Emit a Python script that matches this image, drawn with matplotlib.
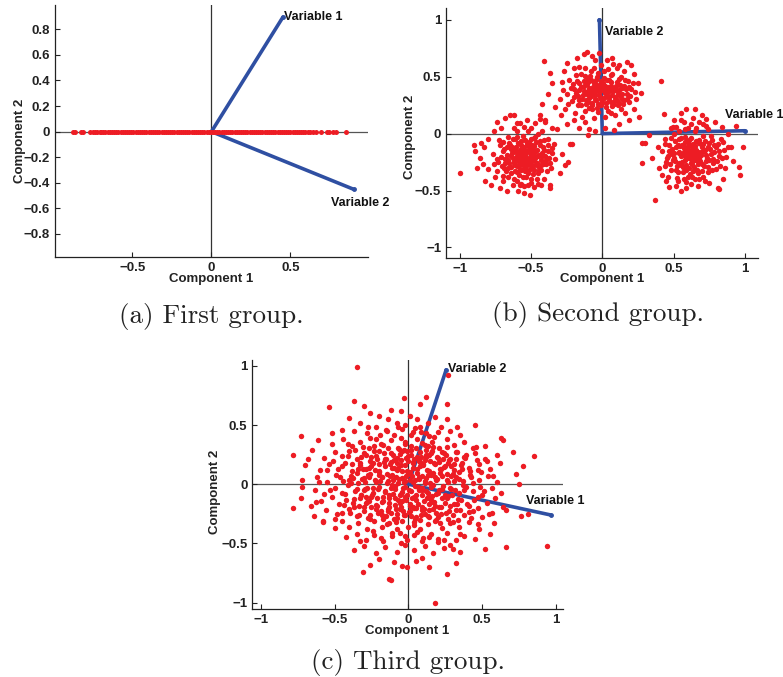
import matplotlib
matplotlib.use("Agg")
import matplotlib.pyplot as plt

# ---------------- data ----------------
# Panel (a): scores lie on the Component 1 axis (Component 2 = 0)
a_x = [-0.878, -0.863, -0.827, -0.812, -0.768, -0.747, -0.735, -0.722, -0.708, -0.696,
       -0.683, -0.671, -0.655, -0.642, -0.630, -0.615, -0.601, -0.589, -0.574, -0.562,
       -0.548, -0.533, -0.521, -0.507, -0.494, -0.480, -0.467, -0.452, -0.440, -0.425,
       -0.412, -0.398, -0.384, -0.371, -0.357, -0.344, -0.330, -0.316, -0.303, -0.290,
       -0.276, -0.262, -0.248, -0.235, -0.221, -0.208, -0.194, -0.181, -0.166, -0.153,
       -0.139, -0.126, -0.112, -0.099, -0.085, -0.071, -0.058, -0.044, -0.031, -0.017,
       -0.004, 0.010, 0.023, 0.037, 0.050, 0.064, 0.078, 0.091, 0.105, 0.118,
       0.132, 0.146, 0.159, 0.173, 0.186, 0.200, 0.214, 0.227, 0.241, 0.254,
       0.268, 0.282, 0.295, 0.309, 0.322, 0.336, 0.350, 0.363, 0.377, 0.390,
       0.404, 0.418, 0.431, 0.445, 0.458, 0.472, 0.486, 0.499, 0.513, 0.526,
       0.540, 0.554, 0.567, 0.581, 0.594, 0.608, 0.622, 0.640, 0.660, 0.690,
       0.730, 0.745, 0.770, 0.790, 0.853]
a_y = [0.0] * len(a_x)

# Panel (b): three clusters
b_left = [(-1.00, -0.35), (-0.90, -0.10), (-0.89, -0.15), (-0.88, -0.30), (-0.86, -0.21),
          (-0.85, -0.08), (-0.84, -0.27), (-0.83, -0.12), (-0.82, -0.42), (-0.80, -0.05),
          (-0.80, -0.31), (-0.78, -0.45), (-0.77, -0.18), (-0.76, 0.02), (-0.75, -0.38),
          (-0.74, 0.10), (-0.73, -0.25), (-0.72, -0.48), (-0.71, 0.05), (-0.70, -0.42),
          (-0.68, 0.14), (-0.67, -0.50), (-0.66, -0.03), (-0.65, 0.16), (-0.63, -0.45),
          (-0.62, 0.16), (-0.60, 0.09), (-0.59, -0.50), (-0.57, -0.44), (-0.55, -0.52),
          (-0.53, 0.12), (-0.51, -0.54), (-0.50, 0.05), (-0.48, -0.47), (-0.47, 0.09),
          (-0.45, -0.44), (-0.44, 0.13), (-0.42, 0.02), (-0.41, -0.40), (-0.40, 0.12),
          (-0.38, -0.05), (-0.37, -0.48), (-0.36, -0.30), (-0.35, -0.13), (-0.33, -0.22),
          (-0.32, 0.04), (-0.30, -0.35), (-0.28, -0.18), (-0.26, -0.28), (-0.24, -0.25),
          (-0.37, -0.45), (-0.43, -0.45),
          (-0.70, -0.15), (-0.68, -0.22), (-0.66, -0.30), (-0.65, -0.10), (-0.64, -0.20),
          (-0.63, -0.05), (-0.62, -0.26), (-0.61, -0.14), (-0.60, -0.34), (-0.60, -0.20),
          (-0.59, -0.08), (-0.58, -0.27), (-0.58, -0.16), (-0.57, -0.22), (-0.56, -0.38),
          (-0.56, -0.02), (-0.55, -0.12), (-0.55, -0.25), (-0.54, -0.30), (-0.54, -0.18),
          (-0.53, -0.08), (-0.53, -0.22), (-0.52, -0.35), (-0.52, -0.14), (-0.51, -0.27),
          (-0.50, -0.19), (-0.50, -0.40), (-0.49, -0.10), (-0.49, -0.24), (-0.48, -0.32),
          (-0.47, -0.16), (-0.47, -0.03), (-0.46, -0.26), (-0.45, -0.20), (-0.45, -0.35),
          (-0.44, -0.10), (-0.43, -0.28), (-0.42, -0.17), (-0.41, -0.06), (-0.40, -0.24),
          (-0.39, -0.33), (-0.38, -0.15), (-0.62, -0.40), (-0.66, -0.38), (-0.69, -0.30),
          (-0.72, -0.10), (-0.74, -0.22), (-0.57, -0.32), (-0.52, -0.45), (-0.46, -0.40),
          (-0.60, 0.02), (-0.55, 0.06), (-0.50, -0.05), (-0.45, 0.00), (-0.58, -0.45),
          (-0.64, -0.35), (-0.70, -0.37), (-0.67, -0.12), (-0.61, -0.22), (-0.57, -0.18),
          (-0.53, -0.28), (-0.51, -0.21), (-0.48, -0.20), (-0.56, -0.23), (-0.54, -0.15),
          (-0.637, -0.172), (-0.621, -0.238), (-0.608, -0.117), (-0.596, -0.283), (-0.587, -0.193),
          (-0.574, -0.061), (-0.566, -0.246), (-0.553, -0.157), (-0.544, -0.331), (-0.536, -0.208),
          (-0.527, -0.096), (-0.518, -0.261), (-0.509, -0.168), (-0.497, -0.303), (-0.488, -0.142),
          (-0.476, -0.233), (-0.463, -0.071), (-0.452, -0.287), (-0.441, -0.186), (-0.428, -0.236),
          (-0.416, -0.121), (-0.403, -0.198), (-0.652, -0.262), (-0.668, -0.187), (-0.683, -0.258),
          (-0.614, -0.331), (-0.582, -0.367), (-0.533, -0.383), (-0.486, -0.352), (-0.432, -0.318),
          (-0.592, -0.227), (-0.561, -0.191), (-0.528, -0.226), (-0.571, -0.132), (-0.505, -0.122),
          (-0.694, -0.071), (-0.612, -0.048), (-0.468, -0.268), (-0.396, -0.271), (-0.372, -0.212),
          (-0.712, -0.203), (-0.703, -0.286), (-0.691, -0.138), (-0.677, -0.331), (-0.662, -0.232),
          (-0.655, -0.083), (-0.643, -0.297), (-0.631, -0.121), (-0.627, -0.213), (-0.616, -0.276),
          (-0.604, -0.163), (-0.597, -0.033), (-0.589, -0.238), (-0.579, -0.311), (-0.568, -0.103),
          (-0.559, -0.277), (-0.551, -0.198), (-0.542, -0.057), (-0.538, -0.263), (-0.526, -0.152),
          (-0.517, -0.317), (-0.511, -0.072), (-0.503, -0.243), (-0.494, -0.173), (-0.483, -0.281),
          (-0.477, -0.106), (-0.469, -0.213), (-0.458, -0.143), (-0.447, -0.322), (-0.438, -0.061),
          (-0.426, -0.193), (-0.419, -0.264), (-0.407, -0.148), (-0.391, -0.227), (-0.383, -0.097),
          (-0.367, -0.256), (-0.353, -0.173), (-0.341, -0.087), (-0.762, -0.263), (-0.741, -0.331),
          (-0.726, -0.056), (-0.596, -0.417), (-0.547, -0.457), (-0.498, -0.431), (-0.622, 0.047),
          (-0.576, 0.093), (-0.521, 0.027), (-0.478, -0.037), (-0.642, -0.136), (-0.586, -0.151)]

b_top = [(-0.41, 0.64), (-0.37, 0.53), (-0.35, 0.44), (-0.38, 0.35), (-0.42, 0.26),
         (-0.44, 0.16), (-0.40, 0.10), (-0.33, 0.23), (-0.30, 0.30), (-0.28, 0.45),
         (-0.27, 0.55), (-0.25, 0.62), (-0.20, 0.58), (-0.18, 0.66), (-0.13, 0.70),
         (-0.11, 0.72), (-0.07, 0.68), (-0.02, 0.71), (0.03, 0.65), (0.07, 0.66),
         (0.12, 0.60), (0.17, 0.63), (0.20, 0.60), (0.22, 0.52), (0.25, 0.44),
         (0.27, 0.36), (0.24, 0.30), (0.22, 0.22), (0.26, 0.15), (0.19, 0.12),
         (0.16, 0.18), (0.41, 0.46), (0.12, 0.08), (0.08, 0.03), (0.02, 0.05),
         (-0.05, 0.02), (-0.09, 0.04), (-0.12, 0.10), (-0.16, 0.05), (-0.20, 0.12),
         (-0.25, 0.08), (-0.29, 0.16), (-0.21, -0.09), (-0.23, -0.09), (-0.35, 0.05),
         (-0.10, -0.01),
         (-0.22, 0.40), (-0.20, 0.32), (-0.18, 0.46), (-0.17, 0.25), (-0.16, 0.38),
         (-0.15, 0.52), (-0.14, 0.30), (-0.13, 0.42), (-0.12, 0.20), (-0.11, 0.35),
         (-0.10, 0.48), (-0.10, 0.28), (-0.09, 0.40), (-0.08, 0.55), (-0.08, 0.33),
         (-0.07, 0.22), (-0.06, 0.44), (-0.05, 0.37), (-0.05, 0.30), (-0.04, 0.50),
         (-0.03, 0.40), (-0.03, 0.26), (-0.02, 0.34), (-0.01, 0.46), (0.00, 0.38),
         (0.00, 0.28), (0.01, 0.55), (0.02, 0.42), (0.03, 0.33), (0.04, 0.20),
         (0.05, 0.47), (0.05, 0.37), (0.06, 0.28), (0.07, 0.52), (0.08, 0.40),
         (0.09, 0.32), (0.10, 0.45), (0.11, 0.25), (0.12, 0.38), (0.13, 0.50),
         (0.14, 0.30), (0.15, 0.42), (0.17, 0.35), (0.18, 0.46), (0.19, 0.28),
         (-0.24, 0.26), (-0.19, 0.18), (-0.14, 0.15), (-0.06, 0.14), (0.02, 0.15),
         (0.09, 0.16), (-0.01, 0.60), (-0.12, 0.58), (0.10, 0.58), (-0.04, 0.43),
         (-0.07, 0.36), (0.03, 0.36), (0.01, 0.31), (-0.02, 0.39), (0.06, 0.42),
         (-0.09, 0.46),
         (-0.152, 0.407), (-0.138, 0.338), (-0.126, 0.462), (-0.113, 0.297), (-0.097, 0.376),
         (-0.086, 0.508), (-0.073, 0.268), (-0.064, 0.413), (-0.051, 0.341), (-0.043, 0.472),
         (-0.036, 0.223), (-0.024, 0.367), (-0.017, 0.427), (-0.008, 0.302), (0.007, 0.448),
         (0.016, 0.357), (0.024, 0.273), (0.037, 0.406), (0.046, 0.322), (0.058, 0.457),
         (0.066, 0.241), (0.073, 0.378), (0.087, 0.292), (0.096, 0.421), (0.107, 0.351),
         (0.118, 0.271), (0.127, 0.427), (0.139, 0.352), (0.153, 0.291), (0.163, 0.396),
         (-0.183, 0.353), (-0.167, 0.291), (-0.204, 0.437), (-0.058, 0.577), (0.042, 0.566),
         (-0.031, 0.188), (0.061, 0.182), (-0.094, 0.223), (0.132, 0.213), (0.204, 0.392),
         (-0.247, 0.347), (-0.231, 0.472), (-0.214, 0.283), (-0.196, 0.396), (-0.185, 0.517),
         (-0.173, 0.327), (-0.161, 0.441), (-0.147, 0.249), (-0.131, 0.371), (-0.122, 0.503),
         (-0.117, 0.262), (-0.104, 0.437), (-0.093, 0.313), (-0.081, 0.391), (-0.077, 0.473),
         (-0.069, 0.247), (-0.056, 0.357), (-0.047, 0.293), (-0.038, 0.412), (-0.027, 0.531),
         (-0.019, 0.322), (-0.011, 0.253), (0.003, 0.407), (0.012, 0.487), (0.019, 0.379),
         (0.028, 0.237), (0.034, 0.468), (0.047, 0.296), (0.053, 0.393), (0.064, 0.511),
         (0.071, 0.337), (0.082, 0.263), (0.093, 0.381), (0.101, 0.298), (0.114, 0.483),
         (0.123, 0.327), (0.136, 0.403), (0.147, 0.262), (0.158, 0.467), (0.171, 0.308),
         (0.186, 0.411), (0.197, 0.332), (0.213, 0.447), (0.227, 0.368), (-0.276, 0.382),
         (-0.262, 0.217), (0.154, 0.553), (-0.163, 0.588), (-0.053, 0.643), (0.073, 0.607)]

b_right = [(0.28, -0.08), (0.30, -0.08), (0.28, -0.26), (0.33, -0.01), (0.35, -0.21),
           (0.37, -0.58), (0.39, -0.12), (0.40, -0.30), (0.42, -0.36), (0.43, 0.17),
           (0.45, -0.42), (0.47, -0.47), (0.48, 0.05), (0.50, 0.12), (0.52, -0.46),
           (0.55, 0.18), (0.57, -0.40), (0.59, 0.22), (0.59, -0.48), (0.62, -0.44),
           (0.65, 0.22), (0.67, -0.46), (0.70, 0.16), (0.71, -0.38), (0.73, 0.13),
           (0.75, -0.43), (0.77, -0.32), (0.79, 0.10), (0.81, -0.48), (0.82, -0.49),
           (0.84, 0.06), (0.86, -0.30), (0.88, 0.00), (0.90, -0.12), (0.92, -0.24),
           (0.94, 0.07), (0.96, -0.29), (0.97, -0.36), (0.99, -0.12), (0.85, -0.40),
           (0.64, -0.33), (0.55, -0.50),
           (0.42, -0.15), (0.44, -0.05), (0.45, -0.25), (0.47, -0.10), (0.48, -0.32),
           (0.49, -0.18), (0.50, 0.00), (0.51, -0.24), (0.52, -0.12), (0.53, -0.34),
           (0.54, -0.05), (0.55, -0.20), (0.55, -0.28), (0.56, -0.10), (0.57, -0.16),
           (0.58, 0.04), (0.58, -0.23), (0.59, -0.32), (0.60, -0.12), (0.60, -0.19),
           (0.61, -0.06), (0.62, -0.26), (0.62, -0.15), (0.63, -0.38), (0.64, -0.09),
           (0.64, -0.20), (0.65, 0.02), (0.66, -0.14), (0.67, -0.27), (0.68, -0.08),
           (0.69, -0.19), (0.70, -0.33), (0.71, -0.02), (0.72, -0.14), (0.73, -0.24),
           (0.75, -0.08), (0.76, -0.18), (0.78, -0.26), (0.80, -0.12), (0.82, -0.20),
           (0.83, -0.05), (0.52, 0.06), (0.57, 0.10), (0.62, 0.08), (0.68, 0.10),
           (0.74, 0.04), (0.46, -0.38), (0.53, -0.42), (0.60, -0.38), (0.68, -0.40),
           (0.74, -0.34), (0.57, -0.13), (0.59, -0.16), (0.61, -0.21), (0.63, -0.11),
           (0.65, -0.17), (0.58, -0.07), (0.66, -0.23), (0.54, -0.16), (0.70, -0.12),
           (0.487, -0.133), (0.501, -0.212), (0.513, -0.067), (0.524, -0.283), (0.536, -0.171),
           (0.547, -0.108), (0.561, -0.247), (0.572, -0.192), (0.583, -0.027), (0.591, -0.273),
           (0.603, -0.147), (0.612, -0.087), (0.624, -0.222), (0.633, -0.167), (0.645, -0.291),
           (0.653, -0.108), (0.662, -0.197), (0.676, -0.052), (0.687, -0.243), (0.694, -0.161),
           (0.708, -0.091), (0.717, -0.281), (0.726, -0.187), (0.741, -0.121), (0.752, -0.232),
           (0.768, -0.057), (0.781, -0.163), (0.796, -0.311), (0.563, -0.336), (0.617, -0.351),
           (0.672, -0.348), (0.538, 0.027), (0.602, 0.053), (0.661, 0.047), (0.728, 0.067),
           (0.459, -0.196), (0.443, -0.287), (0.812, -0.092), (0.838, -0.213), (0.856, -0.141),
           (0.437, -0.087), (0.452, -0.218), (0.466, -0.152), (0.472, -0.267), (0.483, -0.043),
           (0.494, -0.236), (0.506, -0.171), (0.518, -0.318), (0.529, -0.103), (0.541, -0.257),
           (0.552, -0.038), (0.558, -0.183), (0.569, -0.297), (0.577, -0.118), (0.586, -0.217),
           (0.594, -0.063), (0.607, -0.302), (0.614, -0.176), (0.621, -0.038), (0.629, -0.268),
           (0.638, -0.131), (0.647, -0.231), (0.656, -0.062), (0.664, -0.318), (0.671, -0.163),
           (0.682, -0.211), (0.691, -0.092), (0.699, -0.267), (0.712, -0.157), (0.721, -0.063),
           (0.733, -0.217), (0.744, -0.293), (0.757, -0.138), (0.763, -0.021), (0.774, -0.221),
           (0.787, -0.103), (0.803, -0.241), (0.817, -0.156), (0.829, -0.287), (0.847, -0.071),
           (0.868, -0.203), (0.884, -0.117), (0.521, -0.387), (0.584, -0.421), (0.652, -0.397),
           (0.718, -0.412), (0.498, 0.057), (0.553, 0.123), (0.637, 0.137), (0.704, 0.083)]

# Panel (c): one diffuse cloud
c_pts = [(-0.35, 0.99),
         (0.27, 0.92), (-0.37, 0.70), (-0.03, 0.73), (0.12, 0.74),
         (-0.54, 0.65), (-0.30, 0.66), (-0.05, 0.62), (0.08, 0.68), (0.26, 0.68), (-0.12, 0.63),
         (-0.40, 0.56), (-0.26, 0.60), (-0.20, 0.58), (-0.14, 0.55), (-0.08, 0.52), (0.01, 0.58),
         (0.06, 0.55), (0.13, 0.52), (0.26, 0.55), (-0.33, 0.52), (0.18, 0.57), (-0.02, 0.50),
         (-0.73, 0.41), (-0.45, 0.46), (-0.37, 0.45), (-0.28, 0.43), (-0.22, 0.48), (-0.15, 0.46),
         (-0.10, 0.42), (-0.04, 0.47), (0.03, 0.44), (0.08, 0.48), (0.14, 0.41), (0.20, 0.44),
         (0.28, 0.45), (0.35, 0.42), (0.45, 0.50), (0.33, 0.48), (-0.52, 0.43),
         (-0.61, 0.37), (-0.52, 0.34), (-0.44, 0.38), (-0.38, 0.32), (-0.33, 0.36), (-0.27, 0.31),
         (-0.22, 0.38), (-0.17, 0.33), (-0.12, 0.37), (-0.07, 0.31), (-0.02, 0.36), (0.02, 0.32),
         (0.06, 0.38), (0.11, 0.33), (0.16, 0.36), (0.21, 0.31), (0.26, 0.38), (0.31, 0.33),
         (0.38, 0.36), (0.44, 0.31), (0.52, 0.32), (0.63, 0.39), (0.64, 0.37), (-0.26, 0.39),
         (0.09, 0.35),
         (-0.78, 0.25), (-0.65, 0.29), (-0.57, 0.22), (-0.50, 0.27), (-0.45, 0.24), (-0.40, 0.28),
         (-0.35, 0.21), (-0.30, 0.26), (-0.25, 0.23), (-0.20, 0.28), (-0.16, 0.21), (-0.12, 0.26),
         (-0.08, 0.22), (-0.04, 0.28), (0.00, 0.24), (0.04, 0.21), (0.08, 0.27), (0.12, 0.23),
         (0.16, 0.28), (0.20, 0.22), (0.24, 0.26), (0.28, 0.21), (0.33, 0.27), (0.38, 0.23),
         (0.45, 0.26), (0.52, 0.21), (0.60, 0.25), (0.71, 0.27), (0.85, 0.24), (-0.68, 0.21),
         (-0.22, 0.24), (0.02, 0.29), (0.14, 0.25),
         (-0.70, 0.16), (-0.60, 0.12), (-0.54, 0.17), (-0.48, 0.13), (-0.43, 0.18), (-0.38, 0.11),
         (-0.33, 0.16), (-0.29, 0.13), (-0.24, 0.18), (-0.20, 0.11), (-0.16, 0.15), (-0.12, 0.19),
         (-0.08, 0.12), (-0.05, 0.16), (-0.01, 0.11), (0.03, 0.18), (0.06, 0.13), (0.10, 0.16),
         (0.14, 0.11), (0.18, 0.17), (0.22, 0.13), (0.27, 0.18), (0.31, 0.12), (0.36, 0.16),
         (0.42, 0.11), (0.48, 0.17), (0.55, 0.13), (0.62, 0.18), (0.78, 0.15), (-0.10, 0.14),
         (0.08, 0.19), (-0.27, 0.14), (0.25, 0.15), (0.47, 0.12),
         (-0.72, 0.04), (-0.62, 0.06), (-0.55, 0.02), (-0.49, 0.08), (-0.44, 0.03), (-0.39, 0.07),
         (-0.34, 0.01), (-0.30, 0.05), (-0.26, 0.09), (-0.22, 0.02), (-0.18, 0.06), (-0.14, 0.03),
         (-0.11, 0.08), (-0.07, 0.01), (-0.04, 0.05), (0.00, 0.09), (0.03, 0.02), (0.07, 0.06),
         (0.11, 0.01), (0.15, 0.08), (0.19, 0.04), (0.23, 0.07), (0.27, 0.02), (0.32, 0.06),
         (0.37, 0.03), (0.42, 0.08), (0.48, 0.04), (0.54, 0.07), (0.60, 0.02), (0.73, 0.09),
         (0.75, 0.00), (-0.20, 0.08), (0.12, 0.05), (-0.02, 0.03), (0.30, 0.09), (-0.40, 0.04),
         (-0.72, -0.02), (-0.63, -0.05), (-0.57, -0.08), (-0.50, -0.03), (-0.45, -0.07), (-0.41, -0.01),
         (-0.36, -0.06), (-0.32, -0.09), (-0.28, -0.03), (-0.24, -0.07), (-0.20, -0.02), (-0.16, -0.06),
         (-0.13, -0.09), (-0.09, -0.04), (-0.05, -0.08), (-0.02, -0.02), (0.02, -0.06), (0.05, -0.09),
         (0.09, -0.03), (0.13, -0.07), (0.17, -0.01), (0.21, -0.05), (0.25, -0.09), (0.29, -0.04),
         (0.34, -0.07), (0.39, -0.02), (0.44, -0.06), (0.50, -0.09), (0.57, -0.03), (0.63, -0.07),
         (-0.11, -0.01), (0.07, -0.05), (-0.30, -0.05), (0.19, -0.08),
         (-0.78, -0.20), (-0.73, -0.12), (-0.66, -0.18), (-0.59, -0.14), (-0.52, -0.11), (-0.47, -0.17),
         (-0.42, -0.13), (-0.37, -0.19), (-0.33, -0.12), (-0.29, -0.16), (-0.25, -0.11), (-0.21, -0.18),
         (-0.17, -0.14), (-0.13, -0.19), (-0.09, -0.12), (-0.06, -0.16), (-0.02, -0.11), (0.01, -0.17),
         (0.05, -0.13), (0.09, -0.19), (0.13, -0.11), (0.17, -0.15), (0.21, -0.19), (0.26, -0.12),
         (0.31, -0.17), (0.36, -0.13), (0.41, -0.18), (0.47, -0.11), (0.53, -0.16), (0.59, -0.12),
         (0.64, -0.19), (-0.04, -0.14), (0.15, -0.13), (-0.27, -0.14), (0.03, -0.19),
         (-0.64, -0.27), (-0.56, -0.22), (-0.50, -0.29), (-0.45, -0.24), (-0.40, -0.21), (-0.35, -0.27),
         (-0.30, -0.23), (-0.26, -0.29), (-0.22, -0.21), (-0.18, -0.26), (-0.14, -0.23), (-0.10, -0.29),
         (-0.06, -0.21), (-0.03, -0.26), (0.01, -0.23), (0.05, -0.28), (0.09, -0.22), (0.13, -0.27),
         (0.17, -0.21), (0.22, -0.25), (0.27, -0.29), (0.32, -0.22), (0.38, -0.26), (0.44, -0.23),
         (0.50, -0.28), (0.57, -0.24), (0.66, -0.22), (0.76, -0.27), (0.81, -0.25), (-0.08, -0.25),
         (0.11, -0.25),
         (-0.58, -0.32), (-0.50, -0.37), (-0.45, -0.31), (-0.40, -0.36), (-0.34, -0.33), (-0.28, -0.38),
         (-0.23, -0.31), (-0.18, -0.36), (-0.13, -0.33), (-0.08, -0.38), (-0.04, -0.31), (0.00, -0.36),
         (0.04, -0.32), (0.08, -0.38), (0.13, -0.34), (0.18, -0.31), (0.23, -0.37), (0.28, -0.33),
         (0.34, -0.36), (0.41, -0.32), (0.48, -0.38), (0.58, -0.33), (0.47, -0.34),
         (-0.42, -0.45), (-0.35, -0.42), (-0.29, -0.47), (-0.23, -0.43), (-0.17, -0.48), (-0.11, -0.44),
         (-0.06, -0.41), (-0.01, -0.47), (0.04, -0.43), (0.09, -0.48), (0.15, -0.42), (0.20, -0.46),
         (0.26, -0.41), (0.32, -0.47), (0.38, -0.44), (0.45, -0.46), (0.55, -0.42), (0.20, -0.49),
         (-0.37, -0.56), (-0.30, -0.52), (-0.22, -0.58), (-0.16, -0.53), (-0.08, -0.57), (-0.02, -0.51),
         (0.04, -0.56), (0.11, -0.52), (0.17, -0.58), (0.24, -0.54), (0.28, -0.51), (0.35, -0.57),
         (0.52, -0.55), (0.66, -0.53), (0.94, -0.52), (0.30, -0.55),
         (-0.20, -0.63), (-0.10, -0.66), (-0.04, -0.69), (0.09, -0.62), (0.14, -0.70), (0.32, -0.67),
         (-0.26, -0.68), (0.05, -0.65),
         (-0.31, -0.74), (-0.13, -0.80), (-0.12, -0.81), (0.26, -0.76), (-0.01, -0.70), (0.18, -1.00),
         (-0.313, 0.047), (-0.287, -0.112), (-0.262, 0.193), (-0.241, -0.036), (-0.226, 0.117),
         (-0.208, -0.247), (-0.193, 0.031), (-0.181, -0.153), (-0.167, 0.262), (-0.158, -0.067),
         (-0.146, 0.089), (-0.137, -0.208), (-0.124, 0.172), (-0.117, -0.031), (-0.103, 0.243),
         (-0.094, -0.172), (-0.087, 0.058), (-0.076, -0.287), (-0.068, 0.137), (-0.059, -0.094),
         (-0.047, 0.207), (-0.038, -0.228), (-0.031, 0.021), (-0.022, 0.161), (-0.014, -0.136),
         (-0.006, 0.277), (0.004, -0.048), (0.013, 0.103), (0.019, -0.271), (0.028, 0.187),
         (0.036, -0.112), (0.043, 0.037), (0.052, -0.197), (0.061, 0.232), (0.068, -0.023),
         (0.077, 0.151), (0.086, -0.257), (0.094, 0.069), (0.103, -0.141), (0.112, 0.203),
         (0.121, -0.061), (0.128, 0.118), (0.137, -0.218), (0.146, 0.013), (0.153, 0.262),
         (0.162, -0.097), (0.171, 0.176), (0.183, -0.182), (0.192, 0.041), (0.204, -0.274),
         (0.213, 0.128), (0.226, -0.043), (0.237, 0.214), (0.248, -0.158), (0.261, 0.083),
         (0.273, -0.227), (0.286, 0.157), (0.297, -0.088), (0.312, 0.031), (0.327, -0.171),
         (0.341, 0.107),
         (-0.334, -0.187), (-0.318, 0.226), (-0.296, -0.041), (-0.274, 0.081), (-0.253, -0.196),
         (-0.233, 0.279), (-0.214, -0.118), (-0.197, 0.168), (-0.174, -0.293), (-0.152, 0.216),
         (-0.128, -0.118), (-0.107, 0.033), (-0.082, -0.212), (-0.063, 0.296), (-0.042, -0.062),
         (-0.018, 0.218), (0.008, -0.186), (0.024, 0.071), (0.047, -0.296), (0.071, 0.196),
         (0.089, -0.088), (0.117, 0.286), (0.141, -0.167), (0.166, 0.092), (0.188, -0.241),
         (0.209, 0.186), (0.231, -0.113), (0.256, 0.243), (0.281, -0.031), (0.304, -0.262),
         (0.323, 0.214), (-0.342, 0.131), (-0.305, 0.311), (-0.277, -0.283), (-0.186, 0.336),
         (-0.143, -0.337), (-0.021, 0.341), (0.037, -0.348), (0.132, 0.327), (0.214, -0.331),
         (0.263, 0.318), (0.336, -0.303),
         (-0.452, 0.152), (-0.428, -0.083), (-0.411, 0.236), (-0.396, -0.242), (-0.377, 0.053),
         (-0.366, -0.121), (0.362, 0.183), (0.377, -0.052), (0.392, 0.251), (0.408, -0.231),
         (0.424, 0.061), (0.447, -0.133), (0.463, 0.206), (0.488, -0.024), (-0.047, 0.392),
         (0.021, 0.413), (0.083, 0.441), (-0.108, -0.412), (-0.023, -0.437), (0.061, -0.402),
         (0.142, -0.447), (-0.193, 0.412), (0.176, 0.397), (-0.241, -0.396),
         (-0.392, 0.012), (-0.381, 0.174), (-0.372, -0.157), (-0.359, 0.287), (-0.351, -0.043),
         (-0.345, 0.094), (-0.338, -0.264), (-0.327, 0.183), (-0.321, -0.091), (-0.309, 0.132),
         (-0.302, -0.196), (-0.293, 0.019), (-0.284, 0.247), (-0.279, -0.148), (-0.268, 0.063),
         (-0.259, -0.263), (-0.251, 0.152), (-0.244, -0.087), (-0.236, 0.324), (-0.229, 0.037),
         (-0.218, -0.176), (-0.211, 0.211), (-0.203, -0.037), (-0.196, 0.103), (-0.188, -0.223),
         (-0.177, 0.058), (-0.171, -0.108), (-0.163, 0.187), (-0.154, -0.271), (-0.147, 0.012),
         (-0.141, 0.306), (-0.133, -0.162), (-0.126, 0.067), (-0.119, -0.247), (-0.111, 0.139),
         (-0.104, -0.083), (-0.098, 0.208), (-0.091, -0.011), (-0.084, -0.318), (-0.079, 0.176),
         (-0.071, -0.137), (-0.066, 0.041), (-0.057, 0.253), (-0.052, -0.196), (-0.044, 0.112),
         (-0.036, -0.029), (-0.029, 0.287), (-0.024, -0.263), (-0.016, 0.068), (-0.009, -0.087),
         (-0.003, 0.196), (0.006, -0.231), (0.011, 0.032), (0.017, 0.247), (0.023, -0.118),
         (0.031, 0.138), (0.038, -0.203), (0.044, -0.012), (0.051, 0.308), (0.057, 0.097),
         (0.063, -0.163), (0.072, 0.042), (0.079, -0.302), (0.084, 0.227), (0.091, -0.052),
         (0.098, 0.169), (0.106, -0.208), (0.113, 0.027), (0.119, 0.247), (0.126, -0.113),
         (0.133, 0.081), (0.141, -0.276), (0.149, 0.193), (0.156, -0.027), (0.164, 0.312),
         (0.172, -0.146), (0.179, 0.058), (0.187, -0.306), (0.196, 0.231), (0.203, -0.077),
         (0.211, 0.092), (0.219, -0.193), (0.228, 0.271), (0.236, -0.012), (0.244, 0.147),
         (0.252, -0.241), (0.259, 0.037), (0.268, -0.103), (0.277, 0.203), (0.284, -0.181),
         (0.292, 0.072), (0.301, -0.316), (0.309, 0.168), (0.318, -0.052), (0.326, 0.276),
         (0.334, -0.124), (0.343, 0.046), (0.352, -0.217), (0.361, 0.128), (0.371, -0.008),
         (0.383, 0.224), (0.396, -0.163), (0.412, 0.141), (0.427, -0.286), (0.441, 0.013),
         (0.457, 0.318), (0.473, -0.197), (0.492, 0.102), (0.511, -0.061), (0.531, 0.193),
         (0.548, -0.251), (0.572, 0.068), (-0.412, 0.343), (-0.437, -0.176), (-0.463, 0.061),
         (-0.487, -0.248), (-0.508, 0.194), (-0.531, -0.052), (-0.553, 0.122), (-0.578, -0.312),
         (-0.603, 0.021), (-0.627, -0.146), (-0.143, 0.447), (-0.072, 0.486), (0.046, 0.472),
         (0.118, 0.437), (0.221, 0.486), (-0.271, 0.481), (-0.187, -0.452), (-0.052, -0.496),
         (0.097, -0.452), (0.243, -0.473), (0.352, -0.421), (-0.331, -0.476)]

# Variable loadings (end points of the vectors)
a_vectors = {"Variable 1": (0.452, 0.895), "Variable 2": (0.900, -0.451)}
b_vectors = {"Variable 1": (1.00, 0.025), "Variable 2": (-0.02, 1.00)}
c_vectors = {"Variable 1": (0.965, -0.26), "Variable 2": (0.256, 0.967)}

a_xticks = [-0.5, 0, 0.5]
a_xticklabels = ["\u22120.5", "0", "0.5"]
a_yticks = [-0.8, -0.6, -0.4, -0.2, 0, 0.2, 0.4, 0.6, 0.8]
a_yticklabels = ["\u22120.8", "\u22120.6", "\u22120.4", "\u22120.2", "0", "0.2", "0.4", "0.6", "0.8"]
bc_ticks = [-1, -0.5, 0, 0.5, 1]
bc_ticklabels = ["\u22121", "\u22120.5", "0", "0.5", "1"]

captions = ["(a) First group.", "(b) Second group.", "(c) Third group."]

# ---------------- style ----------------
RED = "#ED1C24"
BLUE = "#2F4FA2"
TICKFONT = dict(family="Liberation Sans", weight="bold", size=9.5)

fig = plt.figure(figsize=(7.83, 6.77), dpi=100)


def setup(ax, xlim, ylim, xt, xtl, yt, ytl, xlab_pos, ylab_pos):
    ax.set_xlim(*xlim)
    ax.set_ylim(*ylim)
    for s in ("top", "right"):
        ax.spines[s].set_visible(False)
    for s in ("left", "bottom"):
        ax.spines[s].set_linewidth(0.9)
        ax.spines[s].set_color("#222222")
    ax.set_xticks(xt)
    ax.set_xticklabels(xtl, fontdict=TICKFONT)
    ax.set_yticks(yt)
    ax.set_yticklabels(ytl, fontdict=TICKFONT)
    ax.tick_params(direction="in", length=3.5, width=0.8, color="#222222", pad=3.5,
                   labelcolor="#222222")
    ax.axhline(0, color="#555555", lw=0.9, zorder=1)
    ax.axvline(0, color="#333333", lw=0.9, zorder=1)
    ax.set_xlabel("Component 1", fontdict=TICKFONT, color="#222222")
    ax.set_ylabel("Component 2", fontdict=TICKFONT, color="#222222")
    ax.xaxis.set_label_coords(*xlab_pos)
    ax.yaxis.set_label_coords(*ylab_pos)
    ax.xaxis.label.set_va("center")
    ax.yaxis.label.set_va("center")


def vectors(ax, vecs, offsets):
    for (name, (vx, vy)) in vecs.items():
        ax.plot([0, vx], [0, vy], color=BLUE, lw=2.6, solid_capstyle="round", zorder=2)
        ax.plot([vx], [vy], marker="o", ms=2.5, color=BLUE, zorder=2)
        tx, ty, ha = offsets[name]
        t = ax.text(tx, ty, name, ha=ha, va="center",
                    fontdict=dict(family="Liberation Sans", weight="bold", size=9),
                    color="#111111", zorder=5)
        t.set_clip_on(False)


# Panel (a)
ax1 = fig.add_axes([0.0702, 0.6204, 0.3997, 0.3722])
setup(ax1, (-0.99, 0.99), (-0.98, 0.99), a_xticks, a_xticklabels, a_yticks, a_yticklabels,
      (0.50, -0.087), (-0.112, 0.46))
vectors(ax1, a_vectors, {"Variable 1": (0.462, 0.895, "left"),
                         "Variable 2": (0.754, -0.56, "left")})
ax1.plot(a_x, a_y, "o", color=RED, ms=3.6, mew=0, zorder=3)

# Panel (b)
ax2 = fig.add_axes([0.5696, 0.6193, 0.3985, 0.3684])
setup(ax2, (-1.097, 1.093), (-1.09, 1.10), bc_ticks, bc_ticklabels, bc_ticks, bc_ticklabels,
      (0.50, -0.087), (-0.115, 0.485))
vectors(ax2, b_vectors, {"Variable 1": (0.86, 0.16, "left"),
                         "Variable 2": (0.02, 0.89, "left")})
for cl in (b_left, b_top, b_right):
    ax2.plot([p[0] for p in cl], [p[1] for p in cl], "o", color=RED, ms=3.9, mew=0, zorder=3)

# Panel (c)
ax3 = fig.add_axes([0.3222, 0.1004, 0.3972, 0.3678])
setup(ax3, (-1.058, 1.05), (-1.055, 1.05), bc_ticks, bc_ticklabels, bc_ticks, bc_ticklabels,
      (0.498, -0.088), (-0.12, 0.471))
vectors(ax3, c_vectors, {"Variable 1": (0.80, -0.14, "left"),
                         "Variable 2": (0.27, 0.975, "left")})
ax3.plot([p[0] for p in c_pts], [p[1] for p in c_pts], "o", color=RED, ms=3.9, mew=0, zorder=3)

# Captions
cap_font = dict(family="cmr10", size=19.5, color="#222222")
fig.text(211.5 / 783, 1 - 316 / 677, captions[0], ha="center", va="center", **cap_font)
fig.text(598 / 783, 1 - 314 / 677, captions[1], ha="center", va="center", **cap_font)
fig.text(408 / 783, 1 - 662 / 677, captions[2], ha="center", va="center", **cap_font)

fig.savefig("out.png", dpi=100)
